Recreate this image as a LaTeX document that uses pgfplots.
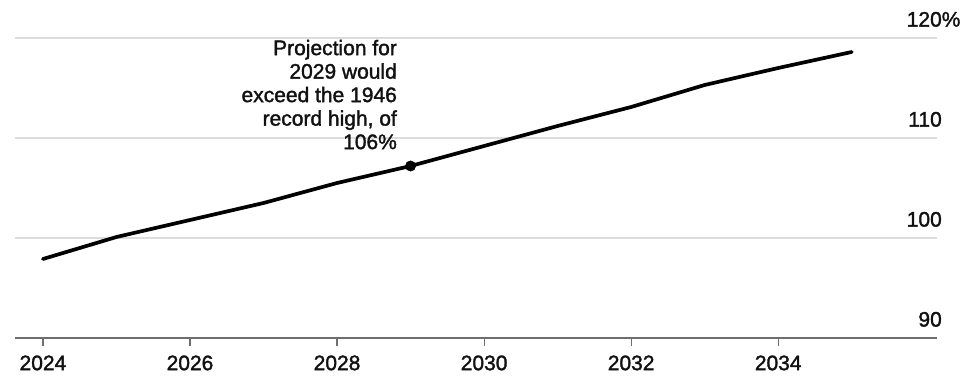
\documentclass[border=0pt]{standalone}
\usepackage{pgfplots}
\pgfplotsset{compat=1.18}
\usepackage{fontspec}
\setmainfont[FakeBold=1.6]{Liberation Sans}
\definecolor{gridc}{HTML}{DCDCDC}
\definecolor{axc}{HTML}{6E6E6E}
\definecolor{txt}{HTML}{111111}
\begin{document}
\begin{tikzpicture}
\path[use as bounding box] (-15bp,-42bp) rectangle (948bp,338bp);
\begin{axis}[
  at={(0,0)}, anchor=south west,
  scale only axis, width=922bp, height=300bp,
  xmin=2023.62, xmax=2036.16, ymin=90, ymax=120,
  axis x line*=bottom, axis y line*=right,
  y axis line style={draw=none},
  x axis line style={axc, line width=1.6bp, -},
  xtick={2024,2026,...,2034},
  xticklabels={2024,2026,2028,2030,2032,2034},
  ytick={90,100,110,120},
  yticklabels={90,100,110,120\rlap{\%}},
  ymajorgrids, grid style={gridc, line width=1.2bp},
  tick align=outside, major tick length=8bp,
  xtick style={axc, line width=1.2bp},
  ytick style={draw=none},
  tick label style={font=\fontsize{21bp}{23.5bp}\selectfont, text=txt},
  /pgf/number format/assume math mode=true,
  xticklabel style={yshift=-6bp},
  yticklabel style={anchor=south east, inner sep=0pt, xshift=-3bp, yshift=11bp},
  clip=false,
]
\addplot[black, line width=3.7bp, line join=round, line cap=round] coordinates {
(2024,97.9) (2025,100.1) (2026,101.8) (2027,103.5) (2028,105.5) (2029,107.2)
(2030,109.2) (2031,111.2) (2032,113.1) (2033,115.3) (2034,117.0) (2035,118.6)
};
\addplot[only marks, mark=*, mark size=5.2bp, black] coordinates {(2029,107.2)};
\node[anchor=south east, align=right, inner sep=0pt, text=txt,
  font=\fontsize{21bp}{23.5bp}\selectfont, xshift=-13.5bp, yshift=16.5bp]
  at (axis cs:2029,107.2) {Projection for\\2029 would\\exceed the 1946\\record high, of\\106\%};
\end{axis}
\end{tikzpicture}
\end{document}
